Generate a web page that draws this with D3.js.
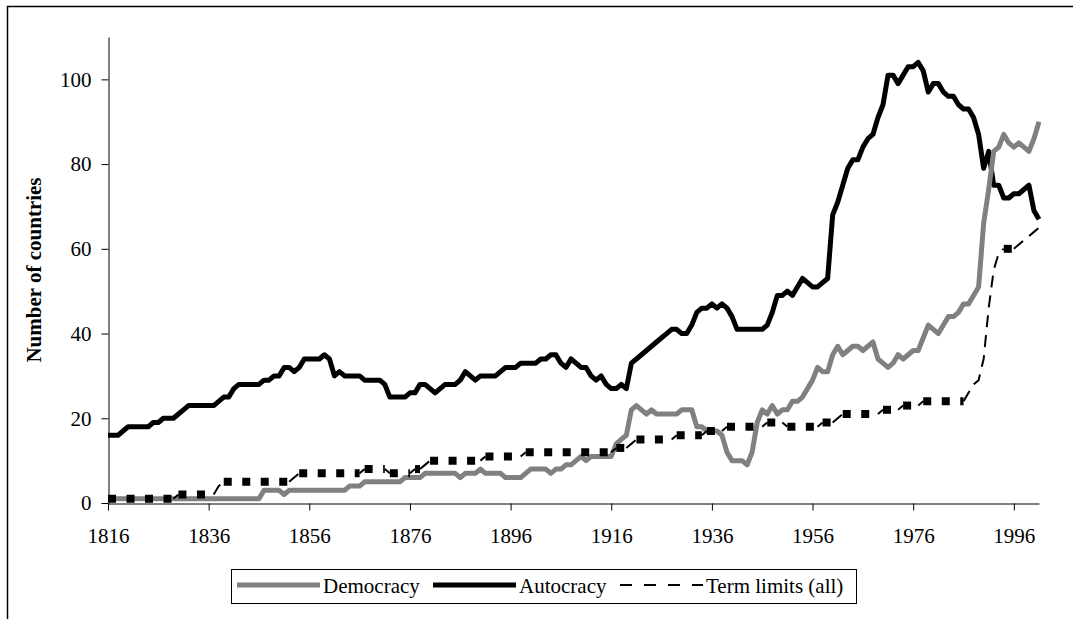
<!DOCTYPE html>
<html>
<head>
<meta charset="utf-8">
<script src="https://cdn.jsdelivr.net/npm/d3@7"></script>
<style>
  body { margin: 0; background: #fff; }
  svg { display: block; }
  text { font-family: "Liberation Serif", "Times New Roman", serif; fill: #000; }
</style>
</head>
<body>
<div class="chart"></div>
<script>
// yearly counts, first value is 1816, last is 2001
const firstYear = 1816;

const autocracy = [
  16,16,16,17,18,18,18,18,18,19,
  19,20,20,20,21,22,23,23,23,23,
  23,23,24,25,25,27,28,28,28,28,
  28,29,29,30,30,32,32,31,32,34,
  34,34,34,35,34,30,31,30,30,30,
  30,29,29,29,29,28,25,25,25,25,
  26,26,28,28,27,26,27,28,28,28,
  29,31,30,29,30,30,30,30,31,32,
  32,32,33,33,33,33,34,34,35,35,
  33,32,34,33,32,32,30,29,30,28,
  27,27,28,27,33,34,35,36,37,38,
  39,40,41,41,40,40,42,45,46,46,
  47,46,47,46,44,41,41,41,41,41,
  41,42,45,49,49,50,49,51,53,52,
  51,51,52,53,68,71,75,79,81,81,
  84,86,87,91,94,101,101,99,101,103,
  103,104,102,97,99,99,97,96,96,94,
  93,93,91,87,79,83,75,75,72,72,
  73,73,74,75,69,67
];

const democracy = [
  1,1,1,1,1,1,1,1,1,1,
  1,1,1,1,1,1,1,1,1,1,
  1,1,1,1,1,1,1,1,1,1,
  1,3,3,3,3,2,3,3,3,3,
  3,3,3,3,3,3,3,3,4,4,
  4,5,5,5,5,5,5,5,5,6,
  6,6,6,7,7,7,7,7,7,7,
  6,7,7,7,8,7,7,7,7,6,
  6,6,6,7,8,8,8,8,7,8,
  8,9,9,10,11,10,11,11,11,11,
  11,14,15,16,22,23,22,21,22,21,
  21,21,21,21,22,22,22,18,18,17,
  17,17,16,12,10,10,10,9,12,19,
  22,21,23,21,22,22,24,24,25,27,
  29,32,31,31,35,37,35,36,37,37,
  36,37,38,34,33,32,33,35,34,35,
  36,36,39,42,41,40,42,44,44,45,
  47,47,49,51,66,74,83,84,87,85,
  84,85,84,83,86,90
];

const termLimits = [
  1,1,1,1,1,1,1,1,1,1,
  1,1,1,1,2,2,2,2,2,2,
  2,2,4,5,5,5,5,5,5,5,
  5,5,5,5,5,5,5,6,7,7,
  7,7,7,7,7,7,7,7,7,7,
  7,8,8,8,8,8,7,7,7,7,
  7,8,8,9,10,10,10,10,10,10,
  10,10,10,10,10,11,11,11,11,11,
  11,11,11,12,12,12,12,12,12,12,
  12,12,12,12,12,12,12,12,12,12,
  12,13,13,13,14,15,15,15,15,15,
  15,15,15,16,16,16,16,16,16,17,
  17,17,17,18,18,18,18,18,18,18,
  18,19,19,19,19,18,18,18,18,18,
  18,18,19,19,19,20,21,21,21,21,
  21,21,21,21,22,22,22,22,23,23,
  23,23,24,24,24,24,24,24,24,24,
  24,26,28,29,34,46,55,59,60,60,
  60,61,62,63,64,65
];

const xTickYears = [1816, 1836, 1856, 1876, 1896, 1916, 1936, 1956, 1976, 1996];
const yTicks = [0, 20, 40, 60, 80, 100];
const seriesNames = ["Democracy", "Autocracy", "Term limits (all)"];

const width = 1073, height = 619;
const plot = { left: 108, right: 1039, top: 37, bottom: 503 };

const svg = d3.select(".chart").append("svg")
  .attr("width", width)
  .attr("height", height);

// outer chart frame (left and top edges show in the picture)
svg.append("path")
  .attr("d", `M7.5,${height} V6.5 H${width}`)
  .attr("fill", "none")
  .attr("stroke", "#000")
  .attr("stroke-width", 1.5);

const xScale = d3.scaleLinear()
  .domain([firstYear, firstYear + autocracy.length - 1])
  .range([plot.left, plot.right]);

const yScale = d3.scaleLinear()
  .domain([0, 110])
  .range([plot.bottom, plot.top]);

const toPoints = arr => arr.map((v, i) => [firstYear + i, v]);

const line = d3.line()
  .x(d => xScale(d[0]))
  .y(d => yScale(d[1]));

// axes
let yAxis = d3.axisLeft(yScale)
  .tickValues(yTicks)
  .tickSize(7)
  .tickSizeOuter(0)
  .tickPadding(10);

let xAxis = d3.axisBottom(xScale)
  .tickValues(xTickYears)
  .tickFormat(d3.format("d"))
  .tickSize(7)
  .tickSizeOuter(0)
  .tickPadding(18);

const gy = svg.append("g")
  .attr("transform", `translate(${plot.left + 0.5},0)`)
  .call(yAxis);
const gx = svg.append("g")
  .attr("transform", `translate(0,${plot.bottom + 0.5})`)
  .call(xAxis);

[gx, gy].forEach(g => {
  g.selectAll("path, line").attr("stroke", "#000").attr("stroke-width", 1);
  g.selectAll("text").attr("font-size", 21).attr("font-family", "Liberation Serif");
});

svg.append("text")
  .attr("transform", `translate(41,${(plot.top + plot.bottom) / 2}) rotate(-90)`)
  .attr("text-anchor", "middle")
  .attr("font-size", 21)
  .attr("font-weight", "bold")
  .text("Number of countries");

// series lines
svg.append("path")
  .datum(toPoints(autocracy))
  .attr("d", line)
  .attr("fill", "none")
  .attr("stroke", "#000")
  .attr("stroke-width", 5)
  .attr("stroke-linejoin", "round");

svg.append("path")
  .datum(toPoints(democracy))
  .attr("d", line)
  .attr("fill", "none")
  .attr("stroke", "#808080")
  .attr("stroke-width", 5)
  .attr("stroke-linejoin", "round");

// term limits: split the line in flat runs (drawn as heavy square dashes)
// and changing runs (drawn as a thin dash)
const tl = toPoints(termLimits);
let runs = [];
let cur = null;
for (let i = 0; i < tl.length - 1; i++) {
  const flat = tl[i][1] === tl[i + 1][1];
  if (!cur || cur.flat !== flat) {
    cur = { flat: flat, pts: [tl[i]] };
    runs.push(cur);
  }
  cur.pts.push(tl[i + 1]);
}

svg.append("g").selectAll("path")
  .data(runs)
  .join("path")
  .attr("d", d => line(d.pts))
  .attr("fill", "none")
  .attr("stroke", "#000")
  .attr("stroke-width", d => d.flat ? 8 : 2)
  .attr("stroke-dasharray", d => d.flat ? "8,10.5" : "12,8");

// legend
const legend = svg.append("g");
legend.append("rect")
  .attr("x", 231.5).attr("y", 569.5)
  .attr("width", 625).attr("height", 34)
  .attr("fill", "#fff")
  .attr("stroke", "#000")
  .attr("stroke-width", 1);

const legendItems = [
  { name: seriesNames[0], x: 237, color: "#808080", w: 5, dash: null },
  { name: seriesNames[1], x: 433, color: "#000", w: 5, dash: null },
  { name: seriesNames[2], x: 620, color: "#000", w: 2, dash: "12,12" }
];

legendItems.forEach(it => {
  legend.append("line")
    .attr("x1", it.x).attr("x2", it.x + 83)
    .attr("y1", 585).attr("y2", 585)
    .attr("stroke", it.color)
    .attr("stroke-width", it.w)
    .attr("stroke-dasharray", it.dash);
  legend.append("text")
    .attr("x", it.x + 86)
    .attr("y", 593)
    .attr("font-size", 21)
    .text(it.name);
});
</script>
</body>
</html>
